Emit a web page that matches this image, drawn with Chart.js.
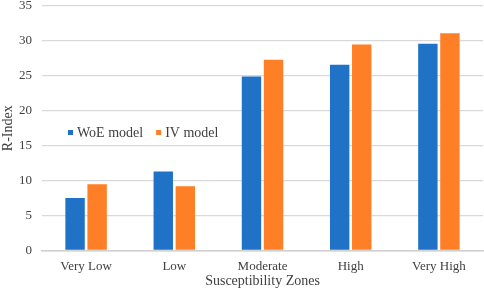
<!DOCTYPE html>
<html>
<head>
<meta charset="utf-8">
<script src="https://cdn.jsdelivr.net/npm/chart.js@4"></script>
<style>
  html, body { margin: 0; padding: 0; background: #fff; }
  #wrap { width: 484px; height: 290px; }
</style>
</head>
<body>
<div id="wrap"><canvas id="chart" width="484" height="290"></canvas></div>
<script>
const zones = ['Very Low', 'Low', 'Moderate', 'High', 'Very High'];
const woeValues = [7.5, 11.3, 24.9, 26.6, 29.6];
const ivValues = [9.5, 9.2, 27.3, 29.5, 31.1];
const yTicks = [0, 5, 10, 15, 20, 25, 30, 35];

const SERIF = '"Liberation Serif", "Times New Roman", serif';
const TEXT = '#404040';

// legend drawn inside the plot, as in the original figure
const insideLegend = {
    id: 'insideLegend',
    afterDraw(chart) {
        const ctx = chart.ctx;
        let x = 68;
        const y = 132.5;
        ctx.save();
        ctx.font = '14px ' + SERIF;
        ctx.textBaseline = 'middle';
        chart.data.datasets.forEach(ds => {
            ctx.fillStyle = ds.backgroundColor;
            ctx.fillRect(x, y - 2.5, 5, 5);
            ctx.fillStyle = TEXT;
            ctx.fillText(ds.label, x + 9, y + 1);
            x += 9 + ctx.measureText(ds.label).width + 13;
        });
        ctx.restore();
    }
};

new Chart(document.getElementById('chart').getContext('2d'), {
    type: 'bar',
    data: {
        labels: zones,
        datasets: [
            { label: 'WoE model', data: woeValues, backgroundColor: '#1f72c6',
              categoryPercentage: 0.5, barPercentage: 0.88 },
            { label: 'IV model', data: ivValues, backgroundColor: '#ff7f27',
              categoryPercentage: 0.5, barPercentage: 0.88 }
        ]
    },
    options: {
        responsive: false,
        animation: false,
        layout: { padding: { top: 6, right: 1, left: 0, bottom: 0 } },
        plugins: { legend: { display: false }, tooltip: { enabled: false } },
        scales: {
            x: {
                grid: { display: false, drawTicks: false },
                border: { color: '#d0d0d0', width: 1.5 },
                ticks: { color: TEXT, font: { family: SERIF, size: 13 }, padding: 8 },
                title: { display: true, text: 'Susceptibility Zones', color: TEXT,
                         font: { family: SERIF, size: 14 }, padding: { top: 0, bottom: 0 } },
                afterFit(axis) { axis.height = 39.5; axis.paddingLeft = 0; axis.paddingRight = 0; }
            },
            y: {
                min: 0, max: 35,
                afterBuildTicks(axis) { axis.ticks = yTicks.map(v => ({ value: v })); },
                grid: { color: '#d9d9d9', lineWidth: 1.3, drawTicks: false },
                border: { display: false },
                ticks: { color: TEXT, font: { family: SERIF, size: 13 }, padding: 10 },
                title: { display: true, text: 'R-Index', color: TEXT,
                         font: { family: SERIF, size: 14 }, padding: { top: 0, bottom: 0 } },
                afterFit(axis) { axis.width = 42; axis.paddingTop = 0; axis.paddingBottom = 0; }
            }
        }
    },
    plugins: [insideLegend]
});
</script>
</body>
</html>
